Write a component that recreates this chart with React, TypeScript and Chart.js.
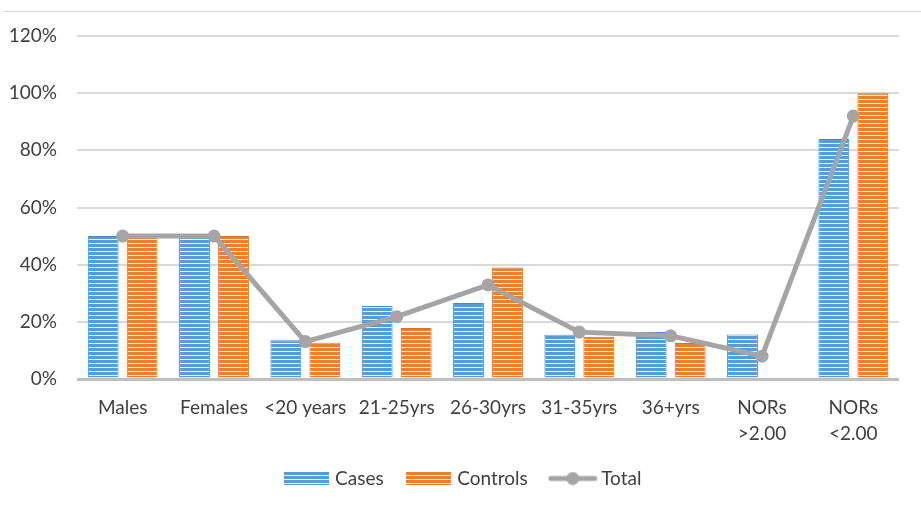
import React, { useEffect, useRef } from "react";
import { Chart, registerables } from "chart.js";
Chart.register(...registerables);

const categories: (string | string[])[] = [
  "Males",
  "Females",
  "<20 years",
  "21-25yrs",
  "26-30yrs",
  "31-35yrs",
  "36+yrs",
  ["NORs", ">2.00"],
  ["NORs", "<2.00"],
];
const casesValues = [50, 50, 13.6, 25.5, 26.6, 15.5, 16.4, 15.6, 84];
const controlsValues = [50, 50, 12.7, 17.8, 39, 14.8, 12.6, 0, 100];
const totalValues = [50, 50, 13.1, 21.8, 32.9, 16.4, 15.1, 8, 92];
const yTickValues = [0, 20, 40, 60, 80, 100, 120];
const seriesNames = ["Cases", "Controls", "Total"];

const BLUE = "#5b9bd5";
const BLUE_LIGHT = "#eef5fb";
const BLUE_EDGE = "#4a86c2";
const ORANGE = "#ed7d31";
const ORANGE_LIGHT = "#fdeee4";
const ORANGE_EDGE = "#d96d25";
const GRAY = "#a5a5a5";
const TEXT = "#404040";
const FONT = "Lato, 'Liberation Sans', sans-serif";

function stripePattern(color: string, light: string): CanvasPattern | string {
  const c = document.createElement("canvas");
  c.width = 4;
  c.height = 4;
  const g = c.getContext("2d");
  if (!g) return color;
  g.fillStyle = color;
  g.fillRect(0, 0, 4, 4);
  g.fillStyle = light;
  g.fillRect(0, 3, 4, 1);
  return g.createPattern(c, "repeat") || color;
}

function barLegendImage(color: string, light: string): HTMLCanvasElement {
  const c = document.createElement("canvas");
  c.width = 45;
  c.height = 13;
  const g = c.getContext("2d")!;
  g.fillStyle = color;
  g.fillRect(0, 0, 45, 13);
  g.fillStyle = light;
  for (let y = 3; y < 13; y += 4) g.fillRect(0, y, 45, 1);
  return c;
}

function lineLegendImage(): HTMLCanvasElement {
  const c = document.createElement("canvas");
  c.width = 50;
  c.height = 14;
  const g = c.getContext("2d")!;
  g.strokeStyle = GRAY;
  g.lineWidth = 5;
  g.lineCap = "round";
  g.beginPath();
  g.moveTo(3, 7);
  g.lineTo(47, 7);
  g.stroke();
  g.fillStyle = GRAY;
  g.beginPath();
  g.arc(25, 7, 6.5, 0, Math.PI * 2);
  g.fill();
  return c;
}

const frameLine = {
  id: "frameLine",
  beforeDraw(chart: any) {
    const ctx = chart.ctx;
    ctx.save();
    ctx.fillStyle = "#ffffff";
    ctx.fillRect(0, 0, chart.width, chart.height);
    ctx.strokeStyle = "#d9d9d9";
    ctx.lineWidth = 1;
    ctx.beginPath();
    ctx.moveTo(3, 11.5);
    ctx.lineTo(chart.width, 11.5);
    ctx.stroke();
    ctx.restore();
  },
};

export default function App() {
  const ref = useRef<HTMLCanvasElement | null>(null);

  useEffect(() => {
    document.body.style.margin = "0";
    const canvas = ref.current;
    if (!canvas) return;
    const legendImgs = [
      barLegendImage(BLUE, BLUE_LIGHT),
      barLegendImage(ORANGE, ORANGE_LIGHT),
      lineLegendImage(),
    ];
    const chart = new Chart(canvas, {
      type: "bar",
      data: {
        labels: categories as any,
        datasets: [
          {
            type: "bar",
            label: seriesNames[0],
            data: casesValues,
            backgroundColor: stripePattern(BLUE, BLUE_LIGHT) as any,
            borderColor: BLUE_EDGE,
            borderWidth: { left: 1, right: 1, top: 1, bottom: 0 } as any,
            categoryPercentage: 0.854,
            barPercentage: 0.79,
            order: 2,
          },
          {
            type: "bar",
            label: seriesNames[1],
            data: controlsValues,
            backgroundColor: stripePattern(ORANGE, ORANGE_LIGHT) as any,
            borderColor: ORANGE_EDGE,
            borderWidth: { left: 1, right: 1, top: 1, bottom: 0 } as any,
            categoryPercentage: 0.854,
            barPercentage: 0.79,
            order: 2,
          },
          {
            type: "line",
            label: seriesNames[2],
            data: totalValues,
            borderColor: GRAY,
            backgroundColor: GRAY,
            borderWidth: 5,
            pointRadius: 6.5,
            pointBackgroundColor: GRAY,
            pointBorderWidth: 0,
            tension: 0,
            order: 0,
          } as any,
        ],
      },
      options: {
        animation: false,
        responsive: false,
        maintainAspectRatio: false,
        layout: { padding: { top: 36, right: 0, left: 8, bottom: 8 } },
        plugins: {
          tooltip: { enabled: false },
          legend: {
            position: "bottom",
            labels: {
              usePointStyle: true,
              pointStyleWidth: 38,
              padding: 26,
              color: TEXT,
              font: { family: FONT, size: 19 },
              sort: (a: any, b: any) => a.datasetIndex - b.datasetIndex,
              generateLabels: (ch: any) => {
                const items = (Chart.defaults.plugins.legend.labels as any).generateLabels(ch);
                return items.map((it: any) => ({ ...it, pointStyle: legendImgs[it.datasetIndex] }));
              },
            },
          },
        },
        scales: {
          x: {
            grid: { display: false, drawTicks: false },
            border: { display: false },
            ticks: {
              color: TEXT,
              font: { family: FONT, size: 19, lineHeight: 1.37 },
              padding: 16,
              maxRotation: 0,
              autoSkip: false,
            },
            afterFit: (scale: any) => {
              scale.height = 64;
            },
          },
          y: {
            min: 0,
            max: 120,
            afterBuildTicks: (scale: any) => {
              scale.ticks = yTickValues.map((v) => ({ value: v }));
            },
            grid: {
              drawTicks: false,
              color: (c: any) => (c.tick && c.tick.value === 0 ? "#bfbfbf" : "#d9d9d9"),
              lineWidth: (c: any) => (c.tick && c.tick.value === 0 ? 3 : 2),
            },
            border: { display: false },
            ticks: {
              color: TEXT,
              font: { family: FONT, size: 19 },
              padding: 20,
              callback: (v: any) => v + "%",
            },
            afterFit: (scale: any) => {
              scale.width = 69;
            },
          },
          yRight: {
            position: "right",
            min: 0,
            max: 120,
            grid: { display: false, drawTicks: false },
            border: { display: false },
            ticks: { display: false },
            afterFit: (scale: any) => {
              scale.width = 22;
            },
          },
        },
      },
      plugins: [frameLine],
    });
    return () => chart.destroy();
  }, []);

  return (
    <div style={{ width: 921, height: 506 }}>
      <canvas ref={ref} width={921} height={506} style={{ display: "block", width: 921, height: 506 }} />
    </div>
  );
}
